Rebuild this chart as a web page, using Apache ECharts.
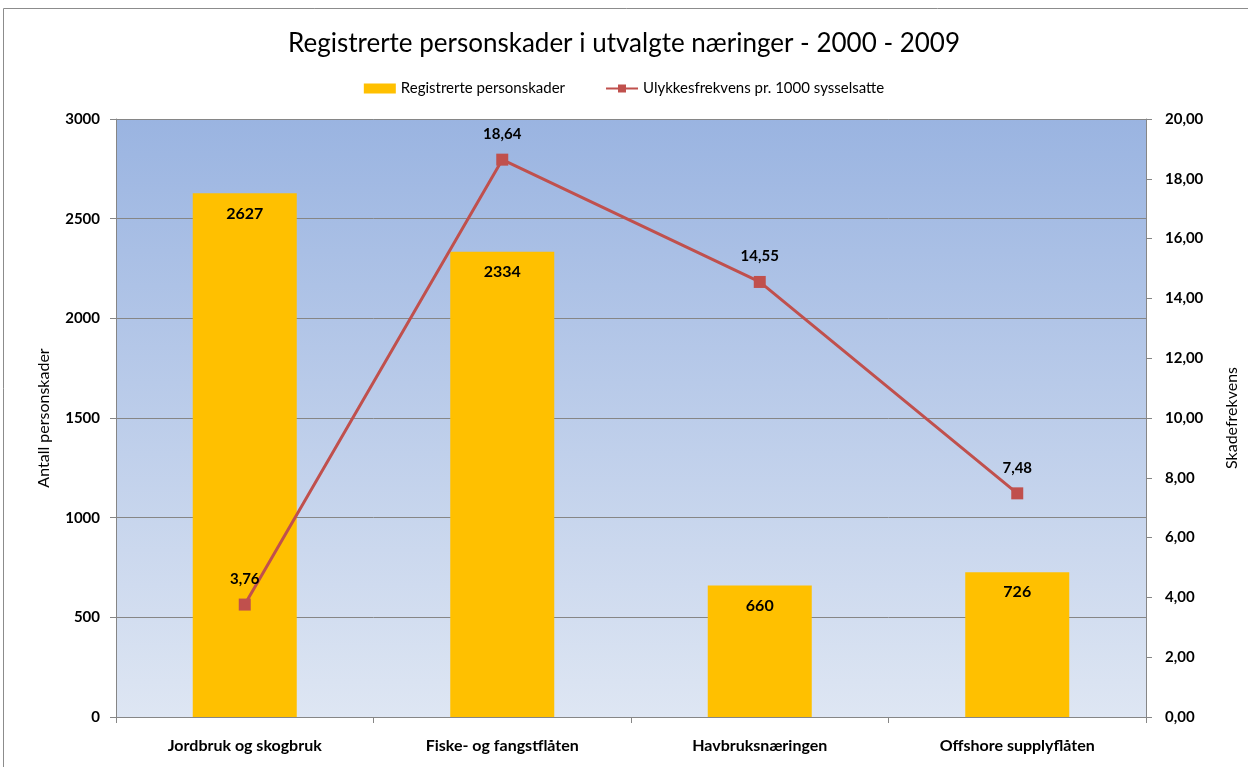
<!DOCTYPE html>
<html>
<head>
<meta charset="utf-8">
<title>Registrerte personskader</title>
<script src="https://cdn.jsdelivr.net/npm/echarts@6/dist/echarts.min.js"></script>
<style>
  html, body { margin: 0; padding: 0; background: #fff; }
  #chart { width: 1248px; height: 767px; }
</style>
</head>
<body>
<div id="chart"></div>
<script>
// data
const categories = ['Jordbruk og skogbruk', 'Fiske- og fangstflåten', 'Havbruksnæringen', 'Offshore supplyflåten']
const injuries = [2627, 2334, 660, 726]
const frequency = [3.76, 18.64, 14.55, 7.48]

const font = 'Lato, "Open Sans", sans-serif'
const comma = v => v.toFixed(2).replace('.', ',')

const chart = echarts.init(document.getElementById('chart'))

chart.setOption({
  animation: false,
  textStyle: { fontFamily: font },
  title: {
    text: 'Registrerte personskader i utvalgte næringer - 2000 - 2009',
    left: 'center',
    top: 26,
    textStyle: { fontFamily: font, fontSize: 26, fontWeight: 'normal', color: '#000' }
  },
  legend: {
    top: 76,
    left: 'center',
    itemGap: 40,
    itemWidth: 32,
    itemHeight: 10,
    textStyle: { fontFamily: font, fontSize: 15, color: '#000' },
    data: [
      { name: 'Registrerte personskader', icon: 'rect' },
      { name: 'Ulykkesfrekvens pr. 1000 sysselsatte' }
    ]
  },
  grid: { left: 116, right: 102, top: 119, bottom: 50 },
  xAxis: {
    type: 'category',
    data: categories,
    axisLine: { lineStyle: { color: '#868686' } },
    axisTick: { show: true, length: 6, lineStyle: { color: '#868686' } },
    axisLabel: { margin: 21, fontSize: 16, fontWeight: 'bold', color: '#000', fontFamily: font }
  },
  yAxis: [
    {
      type: 'value',
      min: 0,
      max: 3000,
      interval: 500,
      name: 'Antall personskader',
      nameLocation: 'middle',
      nameRotate: 90,
      nameGap: 64,
      nameTextStyle: { fontSize: 16, color: '#000', fontFamily: font },
      axisLine: { show: true, lineStyle: { color: '#868686' } },
      axisTick: { show: true, length: 6, lineStyle: { color: '#868686' } },
      axisLabel: { margin: 16, fontSize: 15, fontWeight: 'bold', color: '#000', fontFamily: font, formatter: v => String(v) },
      splitLine: { show: true, lineStyle: { color: '#868686', width: 1 } }
    },
    {
      type: 'value',
      min: 0,
      max: 20,
      interval: 2,
      name: 'Skadefrekvens',
      nameLocation: 'middle',
      nameRotate: 90,
      nameGap: 78,
      nameTextStyle: { fontSize: 16, color: '#000', fontFamily: font },
      axisLine: { show: true, lineStyle: { color: '#868686' } },
      axisTick: { show: true, length: 6, lineStyle: { color: '#868686' } },
      axisLabel: { margin: 19, fontSize: 15, fontWeight: 'bold', color: '#000', fontFamily: font, formatter: comma },
      splitLine: { show: false }
    }
  ],
  series: [
    {
      name: 'Registrerte personskader',
      type: 'bar',
      yAxisIndex: 0,
      data: injuries,
      barWidth: 104,
      itemStyle: { color: '#FFC000' },
      label: {
        show: true,
        position: 'insideTop',
        distance: 12,
        fontSize: 16,
        fontWeight: 'bold',
        color: '#000',
        fontFamily: font
      },
      z: 3
    },
    {
      name: 'Ulykkesfrekvens pr. 1000 sysselsatte',
      type: 'line',
      yAxisIndex: 1,
      data: frequency,
      symbol: 'rect',
      symbolSize: 12,
      lineStyle: { color: '#C0504D', width: 3 },
      itemStyle: { color: '#C0504D' },
      label: {
        show: true,
        position: 'top',
        distance: 12,
        fontSize: 15,
        fontWeight: 'bold',
        color: '#000',
        fontFamily: font,
        formatter: p => comma(p.value)
      },
      z: 4
    }
  ]
})

// frame and gradient plot background, placed from the grid rect
const g = chart.getModel().getComponent('grid').coordinateSystem.getRect()
chart.setOption({
  graphic: [
    {
      type: 'rect',
      shape: { x: 3.5, y: 8.5, width: 1300, height: 800 },
      style: { fill: 'none', stroke: '#8c8c8c', lineWidth: 1 },
      silent: true
    },
    {
      type: 'rect',
      z: -10,
      silent: true,
      shape: { x: g.x, y: g.y, width: g.width, height: g.height },
      style: {
        fill: new echarts.graphic.LinearGradient(0, 0, 0, 1, [
          { offset: 0, color: '#9AB4E1' },
          { offset: 1, color: '#DEE6F3' }
        ])
      }
    }
  ]
})
</script>
</body>
</html>
